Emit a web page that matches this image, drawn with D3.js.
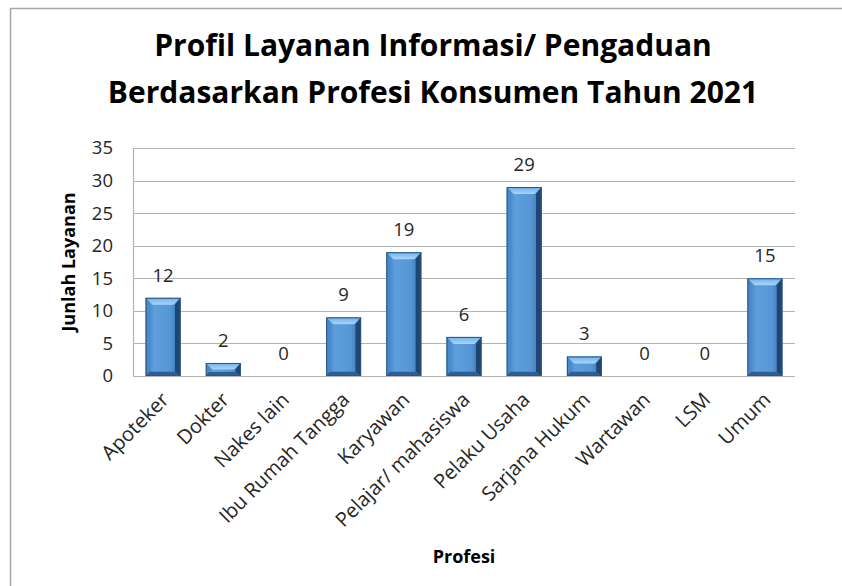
<!DOCTYPE html>
<html>
<head>
<meta charset="utf-8">
<script src="https://cdn.jsdelivr.net/npm/d3@7"></script>
<style>
  body { margin: 0; background: #fff; }
  svg { display: block; font-family: "Open Sans", sans-serif; }
</style>
</head>
<body>
<svg id="chart"></svg>
<script>
let titleLines = ["Profil Layanan Informasi/ Pengaduan", "Berdasarkan Profesi Konsumen Tahun 2021"];
let profesi = ["Apoteker", "Dokter", "Nakes lain", "Ibu Rumah Tangga", "Karyawan", "Pelajar/ mahasiswa",
    "Pelaku Usaha", "Sarjana Hukum", "Wartawan", "LSM", "Umum"];
let jumlah = [12, 2, 0, 9, 19, 6, 29, 3, 0, 0, 15];
let yTicks = [0, 5, 10, 15, 20, 25, 30, 35];

var width = 842;
var height = 586;
let margin = { top: 148, right: 47, bottom: 210, left: 133 };

let svg = d3.select('#chart').attr("width", width).attr("height", height);

// outer frame (only left + top visible in the reference)
svg.append("path")
    .attr("d", "M10.5,586 V8.5 H842")
    .attr("fill", "none")
    .attr("stroke", "#a6a6a6")
    .attr("stroke-width", 1.5);

let defs = svg.append("defs");
let gBody = defs.append("linearGradient").attr("id", "body");
gBody.append("stop").attr("offset", "0%").attr("stop-color", "#3f7dbf");
gBody.append("stop").attr("offset", "25%").attr("stop-color", "#5d9edc");
gBody.append("stop").attr("offset", "70%").attr("stop-color", "#5696d6");
gBody.append("stop").attr("offset", "100%").attr("stop-color", "#3b70aa");
let gTop = defs.append("linearGradient").attr("id", "topbevel").attr("x1", 0).attr("y1", 0).attr("x2", 0).attr("y2", 1);
gTop.append("stop").attr("offset", "0%").attr("stop-color", "#6fb0ea");
gTop.append("stop").attr("offset", "100%").attr("stop-color", "#a9d6fa");

let x = d3.scaleBand()
    .domain(profesi)
    .range([margin.left, width - margin.right])
    .paddingInner(0.42)
    .paddingOuter(0.21);

let y = d3.scaleLinear()
    .domain([0, 35])
    .range([height - margin.bottom, margin.top]);

// title
svg.append("text")
    .attr("x", 433)
    .attr("text-anchor", "middle")
    .attr("font-weight", "bold")
    .attr("font-size", 30)
    .attr("fill", "#000")
    .selectAll("tspan")
    .data(titleLines)
    .enter().append("tspan")
    .attr("x", 433)
    .attr("y", (d, i) => 56 + i * 47)
    .text(d => d);

// grid
svg.append("g")
    .selectAll("line")
    .data(yTicks)
    .enter().append("line")
    .attr("x1", margin.left)
    .attr("x2", width - margin.right)
    .attr("y1", d => Math.round(y(d)) + 0.5)
    .attr("y2", d => Math.round(y(d)) + 0.5)
    .attr("stroke", "#b3b3b3")
    .attr("stroke-width", 1.2);

svg.append("line")
    .attr("x1", margin.left + 0.5).attr("x2", margin.left + 0.5)
    .attr("y1", y(35)).attr("y2", y(0))
    .attr("stroke", "#b3b3b3")
    .attr("stroke-width", 1.2);

// y axis labels
let yAxis = svg.append("g")
    .attr("transform", "translate(" + margin.left + ",0)")
    .call(d3.axisLeft(y).tickValues(yTicks).tickSize(0).tickPadding(20));
yAxis.select(".domain").remove();
yAxis.selectAll("text")
    .attr("font-family", "'Open Sans', sans-serif")
    .attr("font-size", 18.5)
    .attr("fill", "#262626");

svg.append("text")
    .attr("transform", "translate(75," + (y(17.5)) + ") rotate(-90)")
    .attr("text-anchor", "middle")
    .attr("font-weight", "bold")
    .attr("font-size", 18)
    .attr("fill", "#000")
    .text("Junlah Layanan");

// bars with bevel
let bars = svg.append("g")
    .selectAll("g")
    .data(profesi.map((p, i) => ({ name: p, value: jumlah[i] })).filter(d => d.value > 0))
    .enter().append("g");

function poly(pts) { return "M" + pts.map(p => p.join(",")).join("L") + "Z"; }

bars.each(function (d) {
    let g = d3.select(this);
    let x0 = x(d.name), w = x.bandwidth();
    let y0 = y(d.value), h = y(0) - y(d.value);
    let b = Math.min(7, h / 2);
    g.append("rect").attr("x", x0).attr("y", y0).attr("width", w).attr("height", h).attr("fill", "url(#body)");
    g.append("path").attr("d", poly([[x0, y0], [x0 + w, y0], [x0 + w - b, y0 + b], [x0 + b, y0 + b]])).attr("fill", "url(#topbevel)");
    g.append("path").attr("d", poly([[x0 + w, y0], [x0 + w, y0 + h], [x0 + w - b * 0.8, y0 + h - b * 0.6], [x0 + w - b * 0.8, y0 + b]])).attr("fill", "#1f4673");
    g.append("path").attr("d", poly([[x0, y0], [x0 + b * 0.5, y0 + b], [x0 + b * 0.5, y0 + h - b * 0.6], [x0, y0 + h]])).attr("fill", "#4a8acb");
    g.append("path").attr("d", poly([[x0, y0 + h], [x0 + w, y0 + h], [x0 + w - b * 0.8, y0 + h - b * 0.6], [x0 + b * 0.5, y0 + h - b * 0.6]])).attr("fill", "#2d5f96");
    g.append("rect").attr("x", x0 + 0.5).attr("y", y0 + 0.5).attr("width", w - 1).attr("height", h - 1)
        .attr("fill", "none").attr("stroke", "#2a5584").attr("stroke-width", 1);
});

// value labels
svg.append("g")
    .selectAll("text")
    .data(jumlah)
    .enter().append("text")
    .attr("x", (d, i) => x(profesi[i]) + x.bandwidth() / 2)
    .attr("y", d => y(d) - 16)
    .attr("text-anchor", "middle")
    .attr("font-size", 18.5)
    .attr("fill", "#262626")
    .text(d => d);

// x axis labels
let xAxis = svg.append("g")
    .attr("transform", "translate(0," + y(0) + ")")
    .call(d3.axisBottom(x).tickSize(0).tickPadding(0));
xAxis.select(".domain").remove();
xAxis.selectAll("text")
    .attr("font-family", "'Open Sans', sans-serif")
    .attr("font-size", 20)
    .attr("fill", "#262626")
    .attr("text-anchor", "end")
    .attr("dy", "0")
    .attr("transform", "translate(7,25) rotate(-45)");

svg.append("text")
    .attr("x", (margin.left + width - margin.right) / 2)
    .attr("y", 563)
    .attr("text-anchor", "middle")
    .attr("font-weight", "bold")
    .attr("font-size", 18)
    .attr("fill", "#000")
    .text("Profesi");
</script>
</body>
</html>
